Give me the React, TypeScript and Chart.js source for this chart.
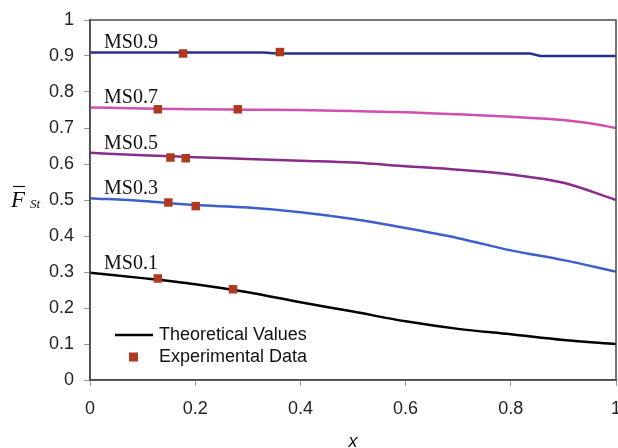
import React, { useEffect, useRef } from "react";
import { Chart, registerables } from "chart.js";

Chart.register(...registerables);

// ---- Data ----
const seriesNames = ["MS0.9", "MS0.7", "MS0.5", "MS0.3", "MS0.1"];
const seriesColors = ["#2b2f8c", "#cf4fb2", "#8a2b8e", "#3c5fcb", "#000000"];

const xStd = [0, 0.1, 0.2, 0.3, 0.4, 0.5, 0.6, 0.7, 0.8, 0.9, 1.0];

const ms09X = [0, 0.33, 0.355, 0.837, 0.856, 1.0];
const ms09Y = [0.91, 0.91, 0.907, 0.907, 0.9, 0.9];

const ms07X = [0, 0.1, 0.2, 0.3, 0.4, 0.5, 0.6, 0.7, 0.8, 0.9, 0.95, 1.0];
const ms07Y = [0.757, 0.754, 0.752, 0.751, 0.75, 0.747, 0.744, 0.738, 0.731, 0.722, 0.713, 0.7];

const ms05Y = [0.631, 0.624, 0.619, 0.614, 0.609, 0.604, 0.594, 0.584, 0.571, 0.548, 0.5];
const ms03Y = [0.505, 0.497, 0.486, 0.479, 0.466, 0.447, 0.422, 0.394, 0.36, 0.333, 0.301];
const ms01Y = [0.298, 0.283, 0.266, 0.244, 0.216, 0.19, 0.163, 0.142, 0.127, 0.111, 0.1];

const expX = [0.177, 0.361, 0.129, 0.281, 0.153, 0.182, 0.149, 0.201, 0.129, 0.272];
const expY = [0.907, 0.911, 0.752, 0.752, 0.618, 0.616, 0.493, 0.483, 0.282, 0.252];

const yTicks = [0, 0.1, 0.2, 0.3, 0.4, 0.5, 0.6, 0.7, 0.8, 0.9, 1];
const xTicks = [0, 0.2, 0.4, 0.6, 0.8, 1];

const legendLabels = ["Theoretical Values", "Experimental Data"];
const expColor = "#b03a20";

const zip = (xs: number[], ys: number[]) => xs.map((x, i) => ({ x, y: ys[i] }));

const seriesData = [
  zip(ms09X, ms09Y),
  zip(ms07X, ms07Y),
  zip(xStd, ms05Y),
  zip(xStd, ms03Y),
  zip(xStd, ms01Y),
];

const overlayPlugin = {
  id: "overlay",
  afterDraw(chart: any) {
    const { ctx, chartArea, scales } = chart;
    const xs = scales.x;
    const ys = scales.y;
    ctx.save();
    // frame
    ctx.strokeStyle = "#4a4a4a";
    ctx.lineWidth = 1.5;
    ctx.strokeRect(chartArea.left, chartArea.top, chartArea.right - chartArea.left, chartArea.bottom - chartArea.top);

    // series labels
    ctx.fillStyle = "#111";
    ctx.font = "20px 'Liberation Serif', serif";
    ctx.textAlign = "left";
    ctx.textBaseline = "alphabetic";
    seriesData.forEach((d, i) => {
      const px = xs.getPixelForValue(0) + 14;
      const py = ys.getPixelForValue(d[0].y) - 4;
      ctx.fillText(seriesNames[i], px, py);
    });

    // legend
    const lx = chartArea.left + 25;
    const ly1 = chartArea.bottom - 45;
    const ly2 = chartArea.bottom - 23;
    ctx.strokeStyle = "#000";
    ctx.lineWidth = 2.5;
    ctx.beginPath();
    ctx.moveTo(lx, ly1);
    ctx.lineTo(lx + 38, ly1);
    ctx.stroke();
    ctx.fillStyle = expColor;
    ctx.fillRect(lx + 14, ly2 - 4.5, 9, 9);
    ctx.fillStyle = "#111";
    ctx.font = "18px 'Liberation Sans', Arial, sans-serif";
    ctx.textBaseline = "middle";
    ctx.fillText(legendLabels[0], lx + 44, ly1);
    ctx.fillText(legendLabels[1], lx + 44, ly2);

    // x title
    ctx.font = "italic 18px 'Liberation Sans', Arial, sans-serif";
    ctx.textAlign = "center";
    ctx.fillText("x", (chartArea.left + chartArea.right) / 2, 442);

    // y title: F with overline, subscript St
    ctx.textAlign = "left";
    ctx.textBaseline = "alphabetic";
    ctx.font = "italic 23px 'Liberation Serif', serif";
    ctx.fillText("F", 11, 207);
    ctx.strokeStyle = "#111";
    ctx.lineWidth = 1.2;
    ctx.beginPath();
    ctx.moveTo(13, 186.5);
    ctx.lineTo(25, 186.5);
    ctx.stroke();
    ctx.font = "italic 13px 'Liberation Serif', serif";
    ctx.fillText("St", 30, 208);
    ctx.restore();
  },
};

export default function App() {
  const ref = useRef<HTMLCanvasElement | null>(null);
  useEffect(() => {
    if (!ref.current) return;
    const datasets: any[] = seriesData.map((d, i) => ({
      type: "line",
      label: seriesNames[i],
      data: d,
      borderColor: seriesColors[i],
      backgroundColor: seriesColors[i],
      borderWidth: 2.5,
      pointRadius: 0,
      tension: 0,
      cubicInterpolationMode: i === 0 ? "default" : "monotone",
      order: 2,
    }));
    datasets.push({
      type: "scatter",
      label: "Experimental Data",
      data: zip(expX, expY),
      backgroundColor: expColor,
      borderColor: expColor,
      borderWidth: 0,
      pointStyle: "rect",
      pointRadius: 6,
      order: 1,
    });
    const tickFont = { family: "'Liberation Sans', Arial, sans-serif", size: 18 };
    const chart = new Chart(ref.current, {
      type: "line",
      data: { datasets },
      options: {
        animation: false,
        responsive: false,
        maintainAspectRatio: false,
        layout: { autoPadding: false, padding: { left: 0, right: 2, top: 20, bottom: 0 } },
        plugins: { legend: { display: false }, tooltip: { enabled: false } },
        scales: {
          x: {
            type: "linear",
            min: 0,
            max: 1,
            afterBuildTicks: (s: any) => {
              s.ticks = xTicks.map((v) => ({ value: v }));
            },
            afterFit: (s: any) => {
              s.height = 68;
              s.paddingLeft = 0;
              s.paddingRight = 0;
            },
            ticks: {
              font: tickFont,
              color: "#222",
              padding: 12,
              maxRotation: 0,
              autoSkip: false,
              callback: (v: any) => String(Number(v)),
            },
            grid: { drawOnChartArea: false, tickLength: 6, color: "#999", lineWidth: 1 },
            border: { color: "#4a4a4a", width: 1.5 },
          },
          y: {
            type: "linear",
            min: 0,
            max: 1,
            afterBuildTicks: (s: any) => {
              s.ticks = yTicks.map((v) => ({ value: v }));
            },
            afterFit: (s: any) => {
              s.width = 90;
              s.paddingTop = 0;
              s.paddingBottom = 0;
            },
            ticks: {
              font: tickFont,
              color: "#222",
              padding: 10,
              autoSkip: false,
              callback: (v: any) => String(Math.round(Number(v) * 10) / 10),
            },
            grid: { drawOnChartArea: false, tickLength: 6, color: "#999", lineWidth: 1 },
            border: { color: "#4a4a4a", width: 1.5 },
          },
        },
      },
      plugins: [overlayPlugin],
    } as any);
    return () => chart.destroy();
  }, []);
  return (
    <div style={{ position: "fixed", left: 0, top: 0, width: 618, height: 448, background: "#fff" }}>
      <canvas ref={ref} width={618} height={448} />
    </div>
  );
}
